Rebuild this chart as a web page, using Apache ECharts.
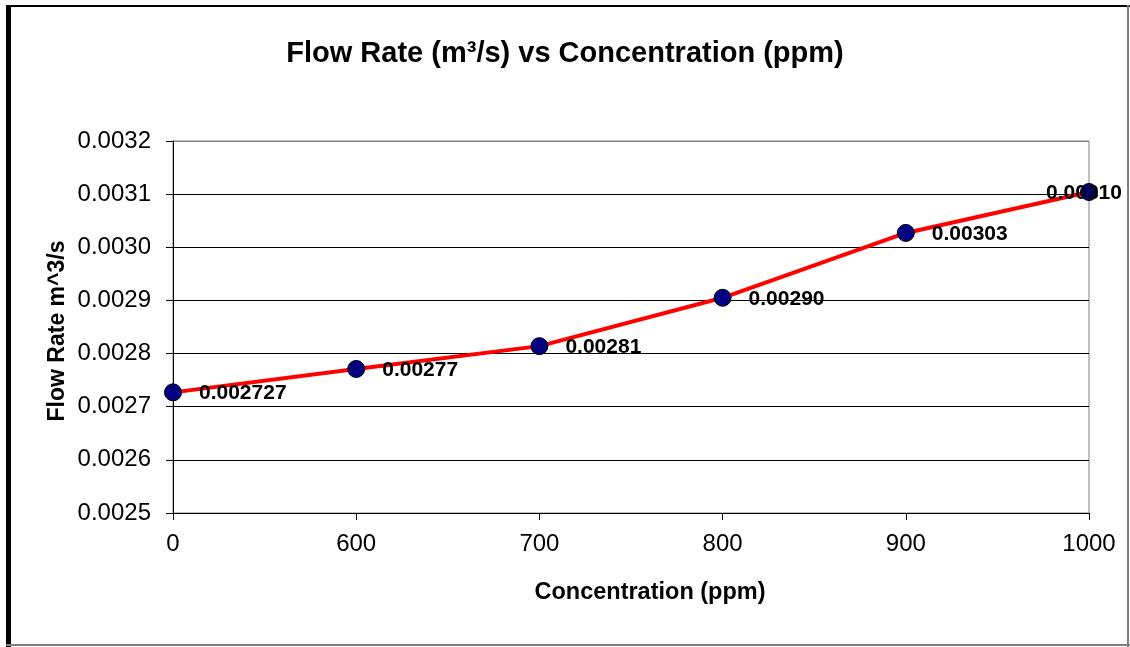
<!DOCTYPE html>
<html><head><meta charset="utf-8">
<script src="https://cdn.jsdelivr.net/npm/echarts@6/dist/echarts.min.js"></script>
<style>html,body{margin:0;padding:0;background:#fff;}#c{width:1130px;height:647px;}</style>
</head><body><div id="c"></div>
<script>
var categories = ['0', '600', '700', '800', '900', '1000'];
var flowRates = [0.002727, 0.002771, 0.002814, 0.002905, 0.003027, 0.003104];
var pointLabels = ['0.002727', '0.00277', '0.00281', '0.00290', '0.00303', '0.00310'];
var yMin = 0.0025, yMax = 0.0032, yStep = 0.0001;

var font = 'Liberation Sans, Arial, sans-serif';
var chart = echarts.init(document.getElementById('c'), null, {renderer: 'canvas'});
var data = flowRates.map(function (v, i) {
  var d = {value: v};
  if (i === flowRates.length - 1) {
    d.label = {position: 'inside', offset: [-5, 1]};
  }
  return d;
});
var gridColors = [];
for (var k = 0; k < 8; k++) gridColors.push(k === 7 ? '#808080' : '#000000');

chart.setOption({
  animation: false,
  backgroundColor: '#ffffff',
  title: {
    text: 'Flow Rate (m³/s) vs Concentration (ppm)',
    left: 'center', top: 34,
    textStyle: {fontFamily: font, fontWeight: 'bold', fontSize: 29, color: '#000'}
  },
  grid: {left: 173, right: 41, top: 141, bottom: 134, show: true, borderColor: '#808080', borderWidth: 1, backgroundColor: '#fff'},
  xAxis: {
    type: 'category', data: categories, boundaryGap: false,
    name: 'Concentration (ppm)', nameLocation: 'middle', nameGap: 68,
    nameTextStyle: {fontFamily: font, fontWeight: 'bold', fontSize: 23.5, color: '#000', padding: [0, 0, 0, 38]},
    axisLine: {lineStyle: {color: '#000', width: 1}},
    axisTick: {show: true, alignWithLabel: true, length: 7, lineStyle: {color: '#000'}},
    axisLabel: {fontFamily: font, fontSize: 24, color: '#000', margin: 19},
    splitLine: {show: false}
  },
  yAxis: {
    type: 'value', min: yMin, max: yMax, interval: yStep,
    name: 'Flow Rate m^3/s', nameLocation: 'middle', nameGap: 104, nameMoveOverlap: false,
    nameTextStyle: {fontFamily: font, fontWeight: 'bold', fontSize: 23, color: '#000', padding: [0, 8, 0, 0]},
    axisLine: {show: true, lineStyle: {color: '#000', width: 1}},
    axisTick: {show: true, length: 7, lineStyle: {color: '#000'}},
    axisLabel: {fontFamily: font, fontSize: 24, color: '#000', margin: 22, formatter: function (v) { return v.toFixed(4); }},
    splitLine: {show: true, lineStyle: {color: gridColors, width: 1}}
  },
  series: [{
    type: 'line', data: data,
    symbol: 'circle', symbolSize: 17,
    lineStyle: {color: '#ff0000', width: 4},
    itemStyle: {color: '#000080', borderColor: '#000000', borderWidth: 1},
    label: {
      show: true, position: 'right', distance: 17, offset: [0, 1],
      fontFamily: font, fontWeight: 'bold', fontSize: 21, color: '#000',
      formatter: function (p) { return pointLabels[p.dataIndex]; }
    },
    z: 3
  }],
  graphic: [
    {type: 'rect', shape: {x: 6, y: 5, width: 5, height: 642}, style: {fill: '#000'}, z: 100},
    {type: 'rect', shape: {x: 6, y: 5, width: 1124, height: 2}, style: {fill: '#000'}, z: 100},
    {type: 'rect', shape: {x: 1127, y: 5, width: 2, height: 642}, style: {fill: '#808080'}, z: 100},
    {type: 'rect', shape: {x: 6, y: 644, width: 1124, height: 2}, style: {fill: '#808080'}, z: 100}
  ]
});
</script></body></html>
